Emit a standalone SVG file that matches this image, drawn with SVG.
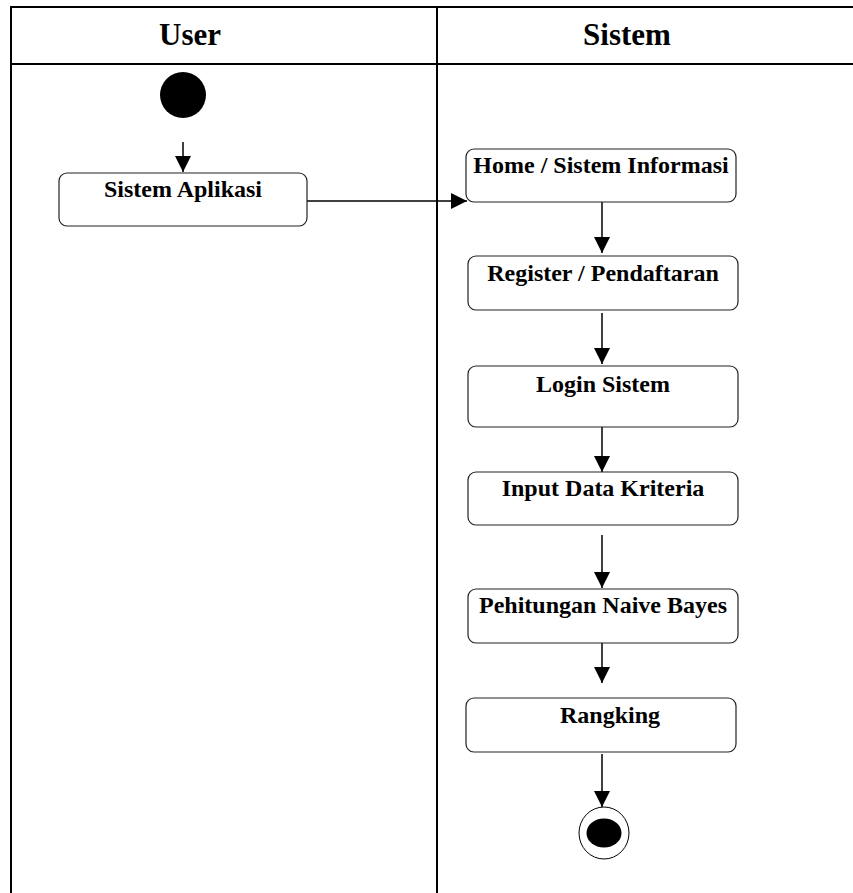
<svg xmlns="http://www.w3.org/2000/svg" width="853" height="893" viewBox="0 0 853 893">
<defs>
<style>
.lane{stroke:#000;stroke-width:2;fill:none}
.box{fill:#fff;stroke:#222;stroke-width:1.2}
.lbl{font-weight:bold;font-size:24px;fill:#000;text-anchor:middle}
.hdr{font-weight:bold;font-size:31px;fill:#000;text-anchor:middle}
.edge{stroke:#000;stroke-width:1.5;fill:none}
</style>
<marker id="ah" markerUnits="userSpaceOnUse" markerWidth="16" markerHeight="18" refX="16" refY="8" orient="auto">
<path d="M0,0 L16,8 L0,16 Z" fill="#000"/>
</marker>
</defs>
<g id="swimlanes" font-family="'Liberation Serif', 'Times New Roman', serif">
<line class="lane" x1="11" y1="7" x2="853" y2="7"/>
<line class="lane" x1="11" y1="64" x2="853" y2="64"/>
<line class="lane" x1="11" y1="6" x2="11" y2="893"/>
<line class="lane" x1="437" y1="7" x2="437" y2="893"/>
<text class="hdr" x="190" y="45">User</text>
<text class="hdr" x="627" y="45">Sistem</text>
</g>
<g id="connectors">
<line class="edge" x1="183" y1="142" x2="183" y2="172" marker-end="url(#ah)"/>
<line class="edge" x1="307" y1="201" x2="467" y2="201" marker-end="url(#ah)"/>
<line class="edge" x1="602" y1="202" x2="602" y2="253" marker-end="url(#ah)"/>
<line class="edge" x1="602" y1="313" x2="602" y2="364" marker-end="url(#ah)"/>
<line class="edge" x1="602" y1="422" x2="602" y2="472" marker-end="url(#ah)"/>
<line class="edge" x1="602" y1="535" x2="602" y2="588" marker-end="url(#ah)"/>
<line class="edge" x1="602" y1="632" x2="602" y2="683" marker-end="url(#ah)"/>
<line class="edge" x1="602" y1="754" x2="602" y2="807" marker-end="url(#ah)"/>
</g>
<g id="start">
<circle cx="183" cy="95" r="23" fill="#000"/>
</g>
<g id="nodes" font-family="'Liberation Serif', 'Times New Roman', serif">
<g id="sistem-aplikasi">
<rect class="box" x="59" y="173" width="248" height="53" rx="8"/>
<text class="lbl" x="183" y="197" font-size="22">Sistem Aplikasi</text>
</g>
<g id="home">
<rect class="box" x="466" y="149" width="270" height="53" rx="8"/>
<text class="lbl" x="601" y="173">Home / Sistem Informasi</text>
</g>
<g id="register">
<rect class="box" x="468" y="256" width="270" height="54" rx="8"/>
<text class="lbl" x="603" y="281">Register / Pendaftaran</text>
</g>
<g id="login">
<rect class="box" x="468" y="366" width="270" height="61" rx="8"/>
<text class="lbl" x="603" y="392">Login Sistem</text>
</g>
<g id="input">
<rect class="box" x="468" y="472" width="270" height="53" rx="8"/>
<text class="lbl" x="603" y="496">Input Data Kriteria</text>
</g>
<g id="pehitungan">
<rect class="box" x="468" y="589" width="270" height="54" rx="8"/>
<text class="lbl" x="603" y="613">Pehitungan Naive Bayes</text>
</g>
<g id="rangking">
<rect class="box" x="466" y="698" width="270" height="54" rx="8"/>
<text class="lbl" x="610" y="723">Rangking</text>
</g>
</g>
<g id="end">
<ellipse cx="604" cy="833" rx="25" ry="26" fill="#fff" stroke="#000" stroke-width="1"/>
<ellipse cx="604" cy="833" rx="17.5" ry="14.5" fill="#000"/>
</g>
</svg>
